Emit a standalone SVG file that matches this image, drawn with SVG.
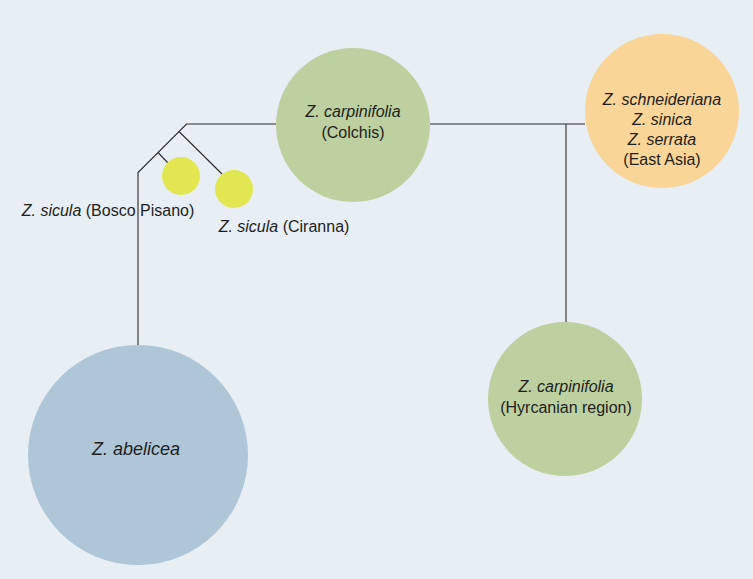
<svg xmlns="http://www.w3.org/2000/svg" width="753" height="579" viewBox="0 0 753 579">
<style>
.t{font-family:"Liberation Sans","DejaVu Sans",sans-serif;font-size:16px;fill:#1e1e1e;text-anchor:middle}
.i{font-style:italic}
.l{fill:none;stroke:#2a2a2a;stroke-width:1.1}
.g{fill:#bdd09f}
</style>
<rect width="753" height="579" fill="#e7eef4"/>
<g id="connectors">
<path class="l" d="M276 124H186.5L138 172.5V345"/>
<path class="l" d="M179 131.5L222 174"/>
<path class="l" d="M158 152.5L168 163"/>
<path class="l" d="M430 124H585"/>
<path class="l" d="M566 124V322"/>
</g>
<g id="colchis">
<circle class="g" cx="353" cy="125" r="77"/>
<text class="t" x="353" y="117"><tspan class="i">Z. carpinifolia</tspan></text>
<text class="t" x="353" y="138">(Colchis)</text>
</g>
<g id="eastasia">
<circle cx="662" cy="111" r="77" fill="#f9d597"/>
<text class="t i" x="662" y="105">Z. schneideriana</text>
<text class="t i" x="662" y="125">Z. sinica</text>
<text class="t i" x="662" y="145">Z. serrata</text>
<text class="t" x="662" y="165">(East Asia)</text>
</g>
<g id="hyrcanian">
<circle class="g" cx="565" cy="399" r="77"/>
<text class="t i" x="566" y="392">Z. carpinifolia</text>
<text class="t" x="566" y="413">(Hyrcanian region)</text>
</g>
<g id="abelicea">
<circle cx="138" cy="455" r="110" fill="#afc6d6"/>
<text class="t i" x="136" y="455" style="font-size:18px">Z. abelicea</text>
</g>
<g id="bosco">
<circle cx="181" cy="176" r="19" fill="#e2e650"/>
<text class="t" x="108" y="216"><tspan class="i">Z. sicula</tspan> (Bosco Pisano)</text>
</g>
<g id="ciranna">
<circle cx="234" cy="189" r="19" fill="#e2e650"/>
<text class="t" x="284" y="232"><tspan class="i">Z. sicula</tspan> (Ciranna)</text>
</g>
</svg>
